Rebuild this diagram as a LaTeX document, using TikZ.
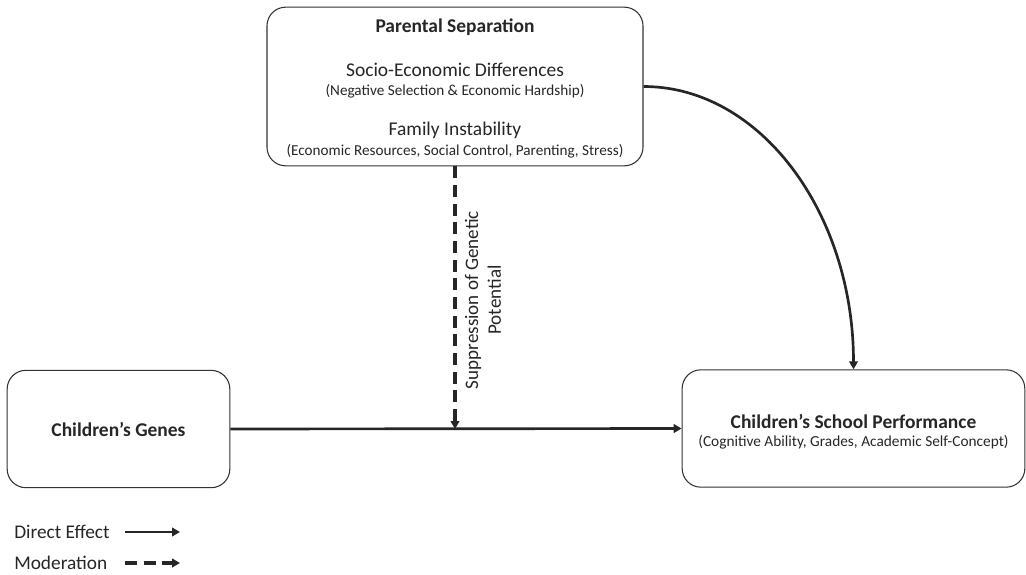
\documentclass[tikz,border=0pt]{standalone}
\usepackage{fontspec}
\setmainfont{Carlito}
\usetikzlibrary{arrows.meta}

\tikzset{
	box/.style={draw=black!80, line width=0.8pt, rounded corners=14pt},
	effect/.style={line width=2pt, black!85, -{Triangle[length=6pt,width=6.5pt]}},
	moderation/.style={line width=2.4pt, black!85, dash pattern=on 9pt off 5pt, -{Triangle[length=6pt,width=6.5pt]}},
	txt/.style={inner sep=0pt, text=black!85}
}

\begin{document}
\begin{tikzpicture}[x=0.75pt, y=-0.75pt]
		\useasboundingbox (0,0) rectangle (1026,575);
		% boxes
		\node[box, minimum width=282pt, minimum height=119pt] (sep) at (455,86.5) {};
		\node[box, minimum width=167pt, minimum height=88pt] (genes) at (118.5,429) {};
		\node[box, minimum width=257pt, minimum height=88pt] (perf) at (853.5,428.5) {};
		% texts of the top box
		\node[txt, font=\fontsize{14.6}{17}\selectfont\bfseries] (septitle) at (455,27) {Parental Separation};
		\node[txt, font=\fontsize{14.6}{17}\selectfont] (sepa) at (455,70) {Socio-Economic Differences};
		\node[txt, font=\fontsize{11.4}{13}\selectfont] (sepasub) at (455,91) {(Negative Selection \& Economic Hardship)};
		\node[txt, font=\fontsize{14.6}{17}\selectfont] (sepb) at (455,130) {Family Instability};
		\node[txt, font=\fontsize{11.4}{13}\selectfont] (sepbsub) at (455,151) {(Economic Resources, Social Control, Parenting, Stress)};
		% texts of the lower boxes
		\node[txt, font=\fontsize{14.6}{17}\selectfont\bfseries] (genestext) at (genes) {Children’s Genes};
		\node[txt, font=\fontsize{14.6}{17}\selectfont\bfseries] (perftitle) at (853.5,421) {Children’s School Performance};
		\node[txt, font=\fontsize{11.5}{13}\selectfont] (perfsub) at (853.5,442) {(Cognitive Ability, Grades, Academic Self-Concept)};
		% label of the moderation
		\node[txt, rotate=90, align=center, font=\fontsize{14.3}{17}\selectfont] (supp) at (483,300) {Suppression of Genetic\\Potential};
		% connectors
		\coordinate (meet) at (sep.south |- genes.east);
		\draw[effect] (genes.east) -- (perf.west);
		\draw[moderation] (sep.south) -- (meet);
		\draw[effect] (sep.east) .. controls +(117,0) and +(0,-156) .. (perf.north);
		% legend
		\node[txt, anchor=west, font=\fontsize{14.5}{17}\selectfont] (legdirect) at (14,532) {Direct Effect};
		\node[txt, anchor=west, font=\fontsize{14.5}{17}\selectfont] (legmod) at (14,563) {Moderation};
		\coordinate (legdirectend) at (180,532);
		\coordinate (legmodend) at (180,563);
		\draw[effect] (125,532) -- (legdirectend);
		\draw[moderation] (125,563) -- (legmodend);
	\end{tikzpicture}
\end{document}
